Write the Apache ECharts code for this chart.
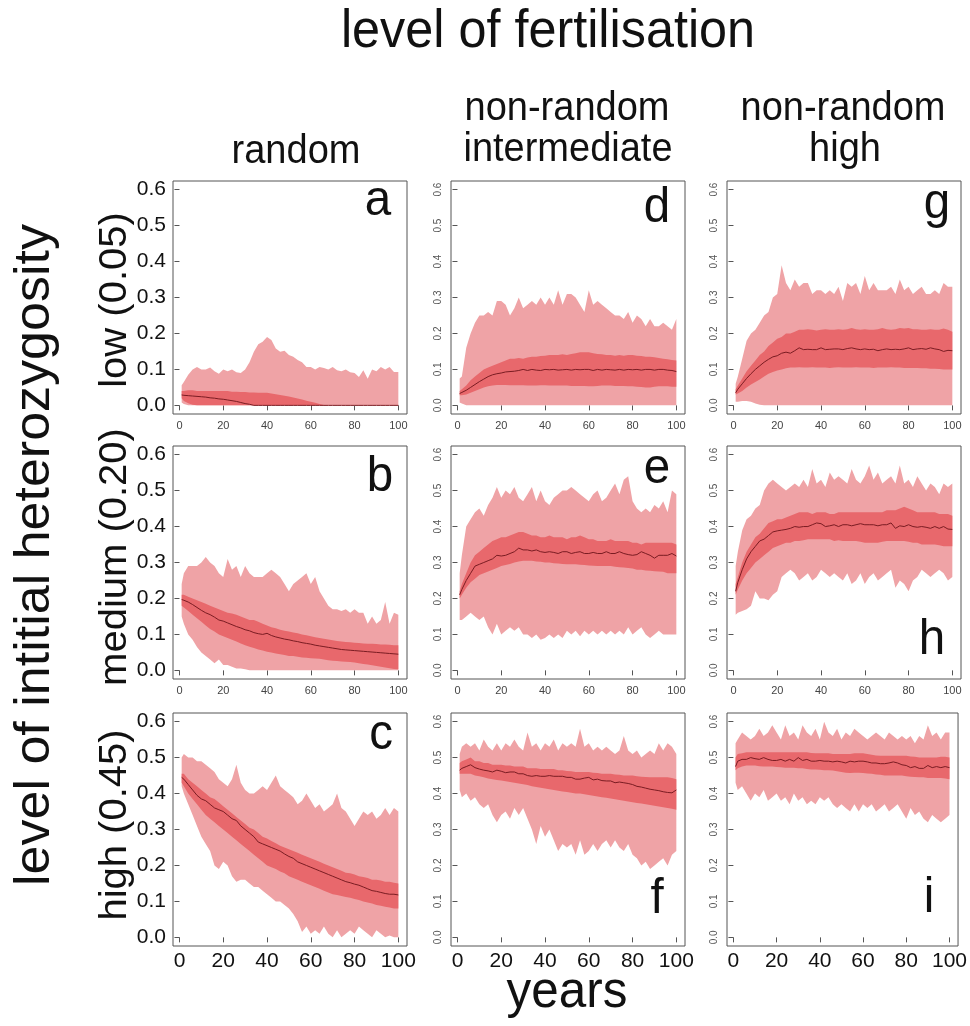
<!DOCTYPE html>
<html><head><meta charset="utf-8">
<script src="https://cdn.jsdelivr.net/npm/echarts@6/dist/echarts.min.js"></script>
<style>html,body{margin:0;padding:0;background:#fff}#c{width:970px;height:1026px}</style>
</head><body><div id="c"></div><script>
// ---------- data ----------
const years = [1,2,4,6,8,10,12,14,16,18,20,22,24,26,28,30,32,34,36,38,40,42,44,46,48,50,52,54,56,58,60,62,64,66,68,70,72,74,76,78,80,82,84,86,88,90,92,94,96,98,100];
const xTicks = [0,20,40,60,80,100];
const yTicks = [0,0.1,0.2,0.3,0.4,0.5,0.6];

// panel a: random / low
const aOuterHi = [0.056,0.065,0.085,0.100,0.107,0.100,0.100,0.105,0.095,0.088, 0.100,0.095,0.100,0.092,0.090,0.100,0.120,0.149,0.170,0.177, 0.190,0.182,0.158,0.149,0.152,0.140,0.135,0.126,0.120,0.107, 0.107,0.100,0.107,0.104,0.100,0.107,0.098,0.095,0.100,0.092, 0.090,0.079,0.098,0.074,0.100,0.095,0.107,0.100,0.107,0.093, 0.093];
const aOuterLo = [0.008,0.004,0,0,0,0,0,0,0,0, 0,0,0,0,0,0,0,0,0,0, 0,0,0,0,0,0,0,0,0,0, 0,0,0,0,0,0,0,0,0,0, 0,0,0,0,0,0,0,0,0,0, 0];
const aInnerHi = [0.040,0.040,0.042,0.042,0.040,0.040,0.040,0.040,0.040,0.040, 0.040,0.040,0.038,0.038,0.037,0.037,0.036,0.036,0.035,0.035, 0.035,0.033,0.031,0.029,0.027,0.025,0.022,0.019,0.016,0.013, 0.010,0.007,0.004,0.001,0,0,0,0,0,0, 0,0,0,0,0,0,0,0,0,0, 0];
const aInnerLo = [0.020,0.012,0.006,0.002,0,0,0,0,0,0, 0,0,0,0,0,0,0,0,0,0, 0,0,0,0,0,0,0,0,0,0, 0,0,0,0,0,0,0,0,0,0, 0,0,0,0,0,0,0,0,0,0, 0];
const aMedian = [0.029,0.028,0.027,0.026,0.025,0.024,0.023,0.021,0.020,0.018, 0.017,0.015,0.013,0.011,0.008,0.005,0.003,0,0,0, 0,0,0,0,0,0,0,0,0,0, 0,0,0,0,0,0,0,0,0,0, 0,0,0,0,0,0,0,0,0,0, 0];

// panel b: random / medium
const bOuterHi = [0.24,0.27,0.29,0.29,0.29,0.30,0.315,0.30,0.29,0.27, 0.26,0.31,0.28,0.29,0.26,0.29,0.27,0.26,0.26,0.26, 0.27,0.28,0.27,0.26,0.24,0.22,0.24,0.25,0.26,0.27, 0.24,0.26,0.22,0.20,0.18,0.17,0.17,0.165,0.17,0.16, 0.17,0.16,0.16,0.13,0.15,0.13,0.14,0.19,0.13,0.16, 0.155];
const bOuterLo = [0.15,0.13,0.10,0.085,0.065,0.05,0.04,0.03,0.02,0.03, 0.015,0.015,0.01,0.005,0.005,0.003,0,0,0,0, 0,0,0,0,0,0,0,0,0,0, 0,0,0,0,0,0,0,0,0,0, 0,0,0,0,0,0,0,0,0,0, 0];
const bInnerHi = [0.21,0.21,0.205,0.20,0.195,0.19,0.185,0.18,0.175,0.17, 0.165,0.16,0.158,0.155,0.15,0.145,0.14,0.14,0.135,0.13, 0.125,0.12,0.117,0.113,0.11,0.108,0.105,0.103,0.10,0.098, 0.095,0.092,0.09,0.088,0.086,0.084,0.082,0.08,0.079,0.078, 0.077,0.076,0.075,0.074,0.074,0.073,0.072,0.072,0.071,0.07, 0.07];
const bInnerLo = [0.18,0.175,0.165,0.155,0.145,0.135,0.125,0.115,0.108,0.10, 0.095,0.09,0.085,0.08,0.075,0.07,0.066,0.062,0.058,0.055, 0.052,0.05,0.047,0.045,0.043,0.04,0.04,0.038,0.036,0.035, 0.034,0.033,0.032,0.03,0.028,0.027,0.026,0.025,0.024,0.023, 0.022,0.02,0.018,0.016,0.014,0.012,0.01,0.008,0.006,0.004, 0.003];
const bMedian = [0.197,0.195,0.19,0.183,0.175,0.167,0.16,0.155,0.148,0.14, 0.137,0.132,0.127,0.122,0.118,0.113,0.11,0.105,0.102,0.10, 0.103,0.097,0.093,0.09,0.087,0.085,0.082,0.08,0.077,0.075, 0.073,0.07,0.068,0.066,0.064,0.062,0.06,0.058,0.057,0.056, 0.055,0.054,0.053,0.052,0.051,0.05,0.049,0.048,0.047,0.046, 0.045];

// panel c: random / high
const cOuterHi = [0.50,0.51,0.50,0.50,0.49,0.49,0.48,0.47,0.46,0.44, 0.43,0.42,0.44,0.48,0.43,0.41,0.40,0.40,0.41,0.42, 0.41,0.43,0.45,0.42,0.41,0.40,0.39,0.37,0.38,0.40, 0.38,0.36,0.37,0.35,0.36,0.37,0.40,0.36,0.35,0.33, 0.31,0.33,0.35,0.34,0.35,0.33,0.34,0.36,0.34,0.36, 0.35];
const cOuterLo = [0.42,0.40,0.37,0.34,0.31,0.28,0.26,0.24,0.20,0.19, 0.21,0.20,0.17,0.155,0.16,0.16,0.15,0.14,0.14,0.13, 0.12,0.11,0.10,0.10,0.09,0.08,0.065,0.045,0.015,0.03, 0.01,0.02,0.01,0.03,0.01,0,0.02,0,0.01,0.02, 0.01,0.03,0.02,0.01,0,0.02,0.01,0,0.005,0, 0];
const cInnerHi = [0.455,0.455,0.44,0.43,0.42,0.41,0.40,0.39,0.385,0.375, 0.365,0.355,0.345,0.335,0.325,0.315,0.305,0.30,0.29,0.28, 0.275,0.268,0.262,0.255,0.25,0.245,0.24,0.235,0.23,0.225, 0.22,0.215,0.21,0.205,0.20,0.195,0.19,0.185,0.18,0.178, 0.175,0.17,0.168,0.165,0.16,0.16,0.158,0.155,0.155,0.152, 0.15];
const cInnerLo = [0.43,0.42,0.40,0.385,0.37,0.355,0.34,0.33,0.32,0.31, 0.30,0.29,0.28,0.27,0.26,0.25,0.24,0.23,0.22,0.21, 0.20,0.195,0.19,0.183,0.178,0.17,0.165,0.16,0.155,0.15, 0.145,0.14,0.135,0.13,0.125,0.12,0.118,0.115,0.112,0.11, 0.107,0.104,0.10,0.097,0.094,0.09,0.088,0.085,0.083,0.08, 0.08];
const cMedian = [0.445,0.44,0.425,0.41,0.395,0.385,0.38,0.37,0.36,0.355, 0.35,0.34,0.33,0.325,0.31,0.30,0.29,0.28,0.265,0.26, 0.255,0.25,0.245,0.24,0.232,0.225,0.22,0.21,0.205,0.20, 0.195,0.19,0.185,0.18,0.175,0.17,0.165,0.16,0.155,0.152, 0.148,0.145,0.14,0.135,0.13,0.128,0.125,0.122,0.12,0.12, 0.118];

// panel d: non-random intermediate / low
const dOuterHi = [0.075,0.080,0.160,0.200,0.230,0.250,0.250,0.260,0.250,0.290, 0.290,0.280,0.250,0.270,0.300,0.270,0.280,0.290,0.280,0.300, 0.280,0.300,0.280,0.320,0.280,0.310,0.310,0.300,0.280,0.260, 0.320,0.280,0.290,0.280,0.270,0.260,0.250,0.250,0.240,0.260, 0.230,0.250,0.240,0.220,0.240,0.220,0.220,0.230,0.220,0.210, 0.240];
const dOuterLo = [0.008,0.005,0,0,0,0,0,0,0,0, 0,0,0,0,0,0,0,0,0,0, 0,0,0,0,0,0,0,0,0,0, 0,0,0,0,0,0,0,0,0,0, 0,0,0,0,0,0,0,0,0,0, 0];
const dInnerHi = [0.040,0.045,0.055,0.070,0.080,0.090,0.100,0.105,0.110,0.115, 0.120,0.125,0.130,0.130,0.132,0.130,0.133,0.135,0.135,0.137, 0.138,0.140,0.140,0.140,0.142,0.140,0.143,0.145,0.148,0.148, 0.148,0.145,0.143,0.142,0.140,0.140,0.138,0.140,0.138,0.140, 0.140,0.138,0.137,0.135,0.135,0.134,0.132,0.130,0.128,0.126, 0.125];
const dInnerLo = [0.028,0.028,0.030,0.035,0.040,0.045,0.050,0.053,0.055,0.057, 0.057,0.057,0.056,0.056,0.056,0.056,0.055,0.055,0.055,0.056, 0.056,0.055,0.055,0.055,0.055,0.055,0.054,0.054,0.054,0.054, 0.053,0.053,0.054,0.055,0.055,0.055,0.054,0.054,0.054,0.053, 0.053,0.052,0.051,0.050,0.050,0.052,0.053,0.053,0.053,0.052, 0.052];
const dMedian = [0.033,0.036,0.042,0.050,0.058,0.066,0.073,0.080,0.085,0.088, 0.090,0.093,0.094,0.095,0.097,0.100,0.097,0.100,0.098,0.097, 0.100,0.099,0.100,0.098,0.099,0.100,0.098,0.100,0.099,0.100, 0.100,0.097,0.100,0.098,0.100,0.099,0.098,0.100,0.098,0.100, 0.099,0.100,0.098,0.100,0.100,0.098,0.100,0.100,0.098,0.097, 0.094];

// panel e: non-random intermediate / medium
const eOuterHi = [0.27,0.32,0.40,0.42,0.44,0.45,0.43,0.46,0.48,0.51, 0.48,0.50,0.49,0.51,0.48,0.47,0.49,0.51,0.47,0.50, 0.47,0.46,0.48,0.49,0.50,0.50,0.51,0.50,0.49,0.48, 0.47,0.49,0.50,0.47,0.48,0.50,0.52,0.49,0.53,0.54, 0.47,0.45,0.44,0.45,0.44,0.46,0.45,0.47,0.44,0.50, 0.49];
const eOuterLo = [0.14,0.14,0.15,0.16,0.15,0.14,0.15,0.12,0.10,0.13, 0.10,0.11,0.12,0.11,0.12,0.10,0.10,0.09,0.10,0.085, 0.09,0.10,0.09,0.10,0.09,0.11,0.10,0.11,0.095,0.11, 0.10,0.11,0.10,0.11,0.10,0.11,0.10,0.11,0.10,0.12, 0.10,0.11,0.12,0.10,0.09,0.10,0.11,0.10,0.10,0.10, 0.10];
const eInnerHi = [0.22,0.24,0.27,0.30,0.32,0.33,0.34,0.35,0.36,0.365, 0.37,0.37,0.375,0.38,0.385,0.385,0.38,0.375,0.375,0.37, 0.37,0.375,0.37,0.37,0.37,0.365,0.37,0.37,0.375,0.37, 0.365,0.365,0.36,0.36,0.36,0.365,0.36,0.36,0.36,0.36, 0.355,0.355,0.35,0.355,0.355,0.355,0.355,0.355,0.355,0.355, 0.35];
const eInnerLo = [0.20,0.21,0.23,0.245,0.255,0.265,0.27,0.275,0.28,0.285, 0.29,0.293,0.296,0.30,0.303,0.305,0.305,0.305,0.303,0.302, 0.30,0.30,0.298,0.297,0.296,0.295,0.295,0.295,0.294,0.293, 0.292,0.291,0.29,0.29,0.29,0.29,0.288,0.287,0.286,0.285, 0.283,0.28,0.28,0.278,0.277,0.276,0.275,0.274,0.27,0.27, 0.27];
const eMedian = [0.21,0.225,0.25,0.27,0.29,0.295,0.30,0.305,0.31,0.32, 0.318,0.32,0.325,0.33,0.34,0.335,0.335,0.332,0.335,0.33, 0.328,0.33,0.328,0.325,0.33,0.33,0.325,0.328,0.33,0.325, 0.325,0.328,0.325,0.325,0.33,0.325,0.325,0.33,0.325,0.322, 0.32,0.322,0.33,0.325,0.32,0.312,0.32,0.32,0.32,0.325, 0.318];

// panel f: non-random intermediate / high
const fOuterHi = [0.51,0.53,0.54,0.53,0.54,0.52,0.55,0.53,0.52,0.54, 0.52,0.54,0.53,0.55,0.53,0.52,0.57,0.53,0.54,0.52, 0.54,0.53,0.55,0.52,0.54,0.53,0.54,0.53,0.58,0.53, 0.54,0.52,0.53,0.52,0.53,0.52,0.51,0.52,0.56,0.52, 0.51,0.52,0.50,0.51,0.52,0.51,0.54,0.52,0.54,0.53, 0.51];
const fOuterLo = [0.41,0.39,0.40,0.38,0.39,0.37,0.36,0.37,0.34,0.32, 0.34,0.35,0.33,0.36,0.34,0.36,0.33,0.30,0.26,0.31, 0.28,0.30,0.27,0.24,0.26,0.25,0.26,0.23,0.27,0.23, 0.24,0.26,0.24,0.26,0.27,0.25,0.27,0.25,0.24,0.26, 0.23,0.22,0.20,0.21,0.19,0.20,0.21,0.22,0.20,0.23, 0.24];
const fInnerHi = [0.485,0.49,0.495,0.50,0.49,0.49,0.485,0.485,0.48,0.48, 0.48,0.478,0.478,0.475,0.475,0.475,0.47,0.47,0.47,0.468, 0.468,0.468,0.468,0.465,0.465,0.463,0.462,0.46,0.46,0.46, 0.46,0.458,0.457,0.455,0.455,0.455,0.453,0.452,0.45,0.45, 0.45,0.448,0.447,0.446,0.445,0.445,0.445,0.445,0.445,0.443, 0.44];
const fInnerLo = [0.455,0.455,0.455,0.455,0.45,0.448,0.445,0.442,0.44,0.438, 0.436,0.434,0.432,0.43,0.428,0.426,0.424,0.42,0.418,0.416, 0.414,0.412,0.41,0.408,0.406,0.404,0.402,0.40,0.40,0.398, 0.396,0.394,0.392,0.39,0.388,0.386,0.384,0.382,0.38,0.378, 0.376,0.374,0.372,0.37,0.368,0.366,0.364,0.362,0.36,0.358, 0.355];
const fMedian = [0.465,0.47,0.475,0.48,0.472,0.468,0.465,0.463,0.46,0.465, 0.462,0.458,0.46,0.46,0.455,0.455,0.45,0.448,0.45,0.448, 0.448,0.45,0.448,0.448,0.448,0.445,0.445,0.44,0.44,0.443, 0.445,0.438,0.44,0.436,0.435,0.435,0.43,0.432,0.43,0.428, 0.425,0.42,0.418,0.415,0.412,0.41,0.408,0.405,0.403,0.402, 0.41];

// panel g: non-random high / low
const gOuterHi = [0.060,0.080,0.130,0.180,0.200,0.210,0.230,0.250,0.260,0.300, 0.310,0.390,0.340,0.320,0.350,0.330,0.340,0.340,0.310,0.320, 0.320,0.310,0.320,0.310,0.330,0.290,0.340,0.330,0.340,0.310, 0.360,0.320,0.340,0.320,0.320,0.320,0.330,0.310,0.350,0.320, 0.330,0.310,0.320,0.330,0.310,0.310,0.320,0.310,0.340,0.330, 0.330];
const gOuterLo = [0.010,0.010,0.012,0.012,0.010,0.005,0.002,0,0,0, 0,0,0,0,0,0,0,0,0,0, 0,0,0,0,0,0,0,0,0,0, 0,0,0,0,0,0,0,0,0,0, 0,0,0,0,0,0,0,0,0,0, 0];
const gInnerHi = [0.045,0.055,0.075,0.095,0.110,0.125,0.140,0.150,0.165,0.175, 0.185,0.190,0.200,0.200,0.205,0.210,0.210,0.212,0.210,0.208, 0.210,0.212,0.210,0.210,0.212,0.210,0.212,0.215,0.212,0.210, 0.212,0.210,0.210,0.212,0.215,0.212,0.210,0.212,0.215,0.214, 0.215,0.212,0.212,0.210,0.210,0.212,0.210,0.210,0.214,0.210, 0.205];
const gInnerLo = [0.030,0.033,0.040,0.050,0.058,0.065,0.072,0.080,0.088,0.093, 0.097,0.100,0.103,0.105,0.105,0.106,0.105,0.105,0.106,0.105, 0.105,0.105,0.104,0.105,0.106,0.105,0.105,0.105,0.106,0.105, 0.105,0.105,0.104,0.105,0.105,0.105,0.106,0.105,0.105,0.104, 0.104,0.104,0.104,0.103,0.103,0.102,0.102,0.101,0.100,0.100, 0.100];
const gMedian = [0.035,0.045,0.060,0.075,0.088,0.100,0.110,0.120,0.128,0.135, 0.138,0.145,0.148,0.145,0.152,0.160,0.155,0.156,0.155,0.155, 0.160,0.155,0.156,0.157,0.157,0.155,0.158,0.160,0.157,0.155, 0.157,0.155,0.156,0.152,0.155,0.157,0.155,0.156,0.155,0.157, 0.160,0.155,0.157,0.158,0.156,0.160,0.157,0.155,0.150,0.153, 0.152];

// panel h: non-random high / medium
const hOuterHi = [0.29,0.33,0.39,0.42,0.43,0.45,0.46,0.50,0.52,0.53, 0.52,0.51,0.50,0.51,0.52,0.51,0.53,0.51,0.56,0.52, 0.53,0.51,0.55,0.53,0.54,0.53,0.52,0.56,0.53,0.52, 0.54,0.57,0.53,0.55,0.52,0.53,0.54,0.52,0.57,0.52, 0.53,0.51,0.54,0.52,0.50,0.52,0.51,0.49,0.52,0.51, 0.52];
const hOuterLo = [0.155,0.16,0.165,0.17,0.18,0.22,0.20,0.20,0.195,0.21, 0.22,0.26,0.27,0.28,0.27,0.25,0.26,0.27,0.25,0.26, 0.28,0.27,0.26,0.27,0.26,0.25,0.27,0.24,0.25,0.27, 0.24,0.26,0.27,0.25,0.26,0.27,0.28,0.23,0.25,0.24, 0.22,0.25,0.26,0.28,0.27,0.26,0.27,0.28,0.27,0.25, 0.26];
const hInnerHi = [0.24,0.26,0.30,0.33,0.35,0.37,0.38,0.395,0.41,0.415, 0.42,0.42,0.425,0.43,0.435,0.44,0.44,0.44,0.435,0.44, 0.44,0.44,0.435,0.435,0.44,0.44,0.44,0.44,0.44,0.44, 0.44,0.44,0.44,0.44,0.44,0.445,0.445,0.445,0.45,0.455, 0.45,0.445,0.44,0.44,0.44,0.44,0.44,0.435,0.435,0.435, 0.43];
const hInnerLo = [0.21,0.225,0.25,0.27,0.285,0.30,0.31,0.32,0.33,0.34, 0.345,0.35,0.355,0.355,0.36,0.36,0.362,0.365,0.365,0.365, 0.365,0.365,0.365,0.36,0.362,0.36,0.36,0.36,0.36,0.358, 0.355,0.355,0.355,0.355,0.358,0.36,0.36,0.36,0.36,0.36, 0.358,0.355,0.355,0.35,0.35,0.35,0.35,0.348,0.345,0.345, 0.345];
const hMedian = [0.22,0.245,0.28,0.31,0.33,0.345,0.36,0.365,0.375,0.385, 0.388,0.39,0.392,0.395,0.40,0.398,0.40,0.40,0.405,0.41, 0.408,0.40,0.402,0.405,0.40,0.405,0.405,0.402,0.405,0.408, 0.405,0.405,0.405,0.402,0.405,0.405,0.41,0.395,0.402,0.40, 0.405,0.40,0.398,0.40,0.398,0.395,0.40,0.395,0.40,0.393, 0.392];

// panel i: non-random high / high
const iOuterHi = [0.54,0.55,0.57,0.56,0.55,0.56,0.58,0.56,0.57,0.59, 0.57,0.55,0.59,0.56,0.57,0.55,0.59,0.57,0.56,0.58, 0.55,0.60,0.57,0.56,0.58,0.55,0.57,0.56,0.58,0.57, 0.56,0.55,0.56,0.57,0.56,0.55,0.57,0.56,0.55,0.56, 0.55,0.56,0.54,0.56,0.55,0.59,0.56,0.57,0.55,0.57, 0.57];
const iOuterLo = [0.43,0.41,0.42,0.40,0.38,0.40,0.39,0.41,0.38,0.39, 0.40,0.38,0.39,0.37,0.40,0.38,0.39,0.37,0.38,0.37, 0.39,0.38,0.39,0.37,0.36,0.37,0.36,0.35,0.37,0.35, 0.37,0.36,0.37,0.35,0.36,0.37,0.35,0.36,0.37,0.35, 0.33,0.36,0.34,0.35,0.33,0.32,0.34,0.33,0.32,0.33, 0.34];
const iInnerHi = [0.50,0.51,0.512,0.515,0.515,0.515,0.515,0.515,0.515,0.515, 0.515,0.515,0.515,0.515,0.515,0.515,0.515,0.515,0.513,0.512, 0.512,0.512,0.512,0.51,0.51,0.51,0.51,0.51,0.512,0.512, 0.512,0.51,0.508,0.506,0.505,0.505,0.505,0.505,0.505,0.505, 0.505,0.503,0.502,0.50,0.50,0.50,0.50,0.50,0.502,0.502, 0.50];
const iInnerLo = [0.465,0.47,0.475,0.478,0.478,0.478,0.476,0.475,0.475,0.475, 0.474,0.473,0.472,0.472,0.472,0.47,0.47,0.468,0.467,0.467, 0.466,0.465,0.465,0.464,0.462,0.46,0.458,0.457,0.458,0.458, 0.457,0.456,0.455,0.453,0.452,0.45,0.45,0.45,0.45,0.45, 0.448,0.447,0.446,0.445,0.445,0.443,0.443,0.443,0.443,0.442, 0.44];
const iMedian = [0.475,0.49,0.495,0.495,0.50,0.497,0.495,0.50,0.495,0.492, 0.492,0.495,0.49,0.495,0.49,0.50,0.492,0.495,0.49,0.49, 0.492,0.49,0.49,0.488,0.49,0.488,0.485,0.49,0.488,0.49, 0.49,0.488,0.485,0.485,0.483,0.483,0.485,0.488,0.485,0.48, 0.478,0.472,0.475,0.47,0.47,0.478,0.472,0.475,0.472,0.475, 0.472];

const columnTitles = [['random'], ['non-random','intermediate'], ['non-random','high']];
const rowTitles = ['low (0.05)', 'medium (0.20)', 'high (0.45)'];

// ---------- layout / style ----------
const FONT = '"Liberation Sans", Arial, Helvetica, sans-serif';
const OUTER = '#EFA3A6', INNER = '#E8686C', LINE = '#7A1C22', FRAME = '#555555';
const colLeft = [173, 451, 727], rowTop = [181, 446, 713], W = 234, H = 233;

const panels = [
  {col:0,row:0,hi:aOuterHi,lo:aOuterLo,ihi:aInnerHi,ilo:aInnerLo,med:aMedian,letter:'a',lx:378,ly:201},
  {col:0,row:1,hi:bOuterHi,lo:bOuterLo,ihi:bInnerHi,ilo:bInnerLo,med:bMedian,letter:'b',lx:380,ly:477},
  {col:0,row:2,hi:cOuterHi,lo:cOuterLo,ihi:cInnerHi,ilo:cInnerLo,med:cMedian,letter:'c',lx:381,ly:735},
  {col:1,row:0,hi:dOuterHi,lo:dOuterLo,ihi:dInnerHi,ilo:dInnerLo,med:dMedian,letter:'d',lx:657,ly:208},
  {col:1,row:1,hi:eOuterHi,lo:eOuterLo,ihi:eInnerHi,ilo:eInnerLo,med:eMedian,letter:'e',lx:657,ly:469},
  {col:1,row:2,hi:fOuterHi,lo:fOuterLo,ihi:fInnerHi,ilo:fInnerLo,med:fMedian,letter:'f',lx:657,ly:899},
  {col:2,row:0,hi:gOuterHi,lo:gOuterLo,ihi:gInnerHi,ilo:gInnerLo,med:gMedian,letter:'g',lx:937,ly:204},
  {col:2,row:1,hi:hOuterHi,lo:hOuterLo,ihi:hInnerHi,ilo:hInnerLo,med:hMedian,letter:'h',lx:932,ly:640},
  {col:2,row:2,hi:iOuterHi,lo:iOuterLo,ihi:iInnerHi,ilo:iInnerLo,med:iMedian,letter:'i',lx:929,ly:898}
];

// rows are [value, year]; encode maps year to x so the value (first dimension) is the stacked one
const vy = arr => years.map((y, j) => [arr[j], y]);
const band = (hi, lo) => years.map((y, j) => [Math.round((hi[j] - lo[j]) * 10000) / 10000, y]);

const grid = [], xAxis = [], yAxis = [], series = [];
panels.forEach((p, i) => {
  grid.push({left: colLeft[p.col], top: rowTop[p.row], width: W, height: H,
    show: true, borderColor: FRAME, borderWidth: 1, backgroundColor: 'rgba(0,0,0,0)'});
  const bigX = p.row === 2;
  xAxis.push({gridIndex: i, type: 'value', min: -2.96, max: 103.96,
    axisLine: {show: false}, splitLine: {show: false},
    axisTick: {show: true, length: 5, customValues: xTicks, lineStyle: {color: FRAME, width: 1}},
    axisLabel: {customValues: xTicks, fontFamily: FONT, fontSize: bigX ? 21 : 11,
      color: bigX ? '#111' : '#444', margin: bigX ? 5 : 6}});
  const bigY = p.col === 0;
  yAxis.push({gridIndex: i, type: 'value', min: -0.024, max: 0.624,
    axisLine: {show: false}, splitLine: {show: false},
    axisTick: {show: true, length: 5, customValues: yTicks, lineStyle: {color: FRAME, width: 1}},
    axisLabel: {customValues: yTicks, formatter: v => v.toFixed(1), fontFamily: FONT,
      fontSize: bigY ? 21 : 10, rotate: bigY ? 0 : 90, color: bigY ? '#111' : '#555', margin: bigY ? 7 : 8}});
  const common = {type: 'line', xAxisIndex: i, yAxisIndex: i, symbol: 'none', silent: true,
    animation: false, encode: {x: 1, y: 0}};
  series.push(Object.assign({}, common, {stack: 'o' + i, data: vy(p.lo), lineStyle: {width: 0, opacity: 0}}));
  series.push(Object.assign({}, common, {stack: 'o' + i, data: band(p.hi, p.lo), lineStyle: {width: 0, opacity: 0},
    areaStyle: {color: OUTER, opacity: 1}}));
  series.push(Object.assign({}, common, {stack: 'i' + i, data: vy(p.ilo), lineStyle: {width: 0, opacity: 0}}));
  series.push(Object.assign({}, common, {stack: 'i' + i, data: band(p.ihi, p.ilo), lineStyle: {width: 0, opacity: 0},
    areaStyle: {color: INNER, opacity: 1}}));
  series.push(Object.assign({}, common, {data: vy(p.med), lineStyle: {color: LINE, width: 1}}));
});

// ---------- text ----------
const SX = 0.95;
function txt(text, x, y, fs, rotated) {
  const el = {type: 'text', x: x, y: y, silent: true, z: 100,
    style: {text: text, fontFamily: FONT, fontSize: fs, fill: '#111',
      textAlign: 'center', textVerticalAlign: 'middle', verticalAlign: 'middle'}};
  if (rotated) { el.rotation = Math.PI / 2; el.scaleY = SX; } else { el.scaleX = SX; }
  return el;
}
const graphic = [];
graphic.push(txt('level of fertilisation', 548, 32, 53));
graphic.push(txt(columnTitles[0][0], 296, 152, 40));
graphic.push(txt(columnTitles[1][0], 567, 109, 40));
graphic.push(txt(columnTitles[1][1], 568, 150, 40));
graphic.push(txt(columnTitles[2][0], 843, 109, 40));
graphic.push(txt(columnTitles[2][1], 845, 150, 40));
graphic.push(txt(rowTitles[0], 116, 300, 40, true));
graphic.push(txt(rowTitles[1], 116, 557, 40, true));
graphic.push(txt(rowTitles[2], 116, 825, 40, true));
graphic.push(txt('level of intitial heterozygosity', 35, 555, 52, true));
graphic.push(txt('years', 567, 993, 52));
panels.forEach(p => graphic.push(txt(p.letter, p.lx, p.ly, 50)));

const chart = echarts.init(document.getElementById('c'), null, {renderer: 'canvas'});
chart.setOption({animation: false, backgroundColor: '#fff', grid, xAxis, yAxis, series, graphic});
</script></body></html>
